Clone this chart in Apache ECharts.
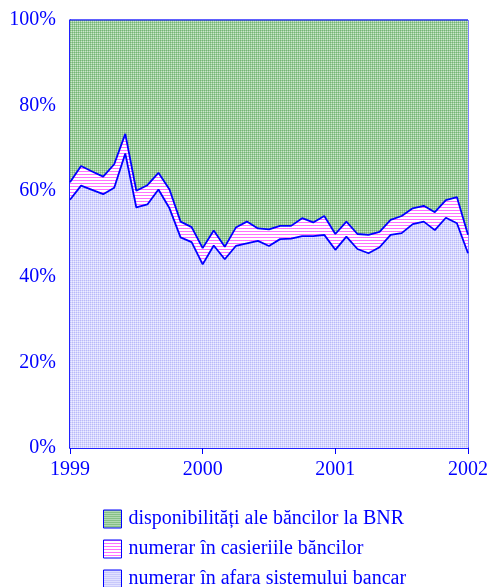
<!DOCTYPE html>
<html>
<head>
<meta charset="utf-8">
<script src="https://cdn.jsdelivr.net/npm/echarts@6/dist/echarts.min.js"></script>
<style>
  html, body { margin: 0; padding: 0; background: #fff; }
  #chart { width: 491px; height: 587px; }
</style>
</head>
<body>
<div id="chart"></div>
<script>
// lunar, ian 1999 - ian 2002
var months = ['1999-01', '1999-02', '1999-03', '1999-04', '1999-05', '1999-06', '1999-07', '1999-08', '1999-09', '1999-10', '1999-11', '1999-12',
  '2000-01', '2000-02', '2000-03', '2000-04', '2000-05', '2000-06', '2000-07', '2000-08', '2000-09', '2000-10', '2000-11', '2000-12',
  '2001-01', '2001-02', '2001-03', '2001-04', '2001-05', '2001-06', '2001-07', '2001-08', '2001-09', '2001-10', '2001-11', '2001-12',
  '2002-01']
// % din total
var numerarAfara = [58.0, 61.3, 60.3, 59.3, 60.8, 68.8, 56.2, 56.9, 60.4, 56.0, 49.2, 48.1, 42.9,
  47.3, 44.1, 47.2, 47.8, 48.4, 47.2, 48.8, 48.9, 49.5, 49.5, 49.8, 46.3,
  49.4, 46.5, 45.5, 46.9, 49.8, 50.2, 52.3, 52.9, 50.9, 53.8, 52.5, 45.5]
var numerarCasierii = [4.1, 4.6, 4.3, 4.1, 5.5, 4.6, 3.9, 4.5, 3.9, 4.4, 3.7, 3.5, 3.8,
  3.5, 2.9, 4.3, 5.1, 2.9, 3.9, 3.1, 3.0, 4.2, 3.2, 4.4, 3.7,
  3.5, 3.5, 4.3, 3.6, 3.5, 4.0, 3.7, 3.7, 4.2, 4.1, 6.1, 4.3]
var disponibilitatiBNR = [37.9, 34.1, 35.4, 36.6, 33.7, 26.6, 39.9, 38.6, 35.7, 39.6, 47.1, 48.4, 53.3,
  49.2, 53.0, 48.5, 47.1, 48.7, 48.9, 48.1, 48.1, 46.3, 47.3, 45.8, 50.0,
  47.1, 50.0, 50.2, 49.5, 46.7, 45.8, 44.0, 43.4, 44.9, 42.1, 41.4, 50.2]

var BLUE = '#0000ff'

function makePattern(w, h, draw) {
  var c = document.createElement('canvas')
  c.width = w
  c.height = h
  draw(c.getContext('2d'))
  return { image: c, repeat: 'repeat' }
}

var greenPattern = makePattern(2, 2, function(ctx) {
  ctx.fillStyle = '#99cc99'
  ctx.fillRect(0, 0, 2, 2)
  ctx.fillStyle = '#74b474'
  ctx.fillRect(0, 0, 1, 1)
  ctx.fillStyle = '#cce6cc'
  ctx.fillRect(1, 1, 1, 1)
})
var pinkPattern = makePattern(1, 3, function(ctx) {
  ctx.fillStyle = '#ffffff'
  ctx.fillRect(0, 0, 1, 3)
  ctx.fillStyle = '#ff70ff'
  ctx.fillRect(0, 0, 1, 1)
})
var lavenderPattern = makePattern(2, 2, function(ctx) {
  ctx.fillStyle = '#d6d6ff'
  ctx.fillRect(0, 0, 2, 2)
  ctx.fillStyle = '#babaf8'
  ctx.fillRect(0, 0, 1, 1)
  ctx.fillStyle = '#ededff'
  ctx.fillRect(1, 1, 1, 1)
})

function isYearStart(i) {
  return i % 12 === 0
}

var chart = echarts.init(document.getElementById('chart'))
var font = 'Liberation Serif'

chart.setOption({
  animation: false,
  backgroundColor: '#ffffff',
  grid: {
    left: 70,
    right: 20,
    top: 20,
    bottom: 139,
    show: true,
    borderColor: BLUE,
    borderWidth: 1
  },
  xAxis: {
    type: 'category',
    boundaryGap: false,
    data: months,
    axisLine: { lineStyle: { color: BLUE, width: 1.5 } },
    axisTick: { show: true, length: 6, interval: isYearStart, lineStyle: { color: BLUE } },
    splitLine: { show: false },
    axisLabel: {
      color: BLUE,
      fontFamily: font,
      fontSize: 20,
      margin: 12,
      interval: isYearStart,
      formatter: function(v) { return v.slice(0, 4) }
    }
  },
  yAxis: {
    type: 'value',
    min: 0,
    max: 100,
    interval: 20,
    axisLine: { show: true, lineStyle: { color: BLUE, width: 1.5 } },
    axisTick: { show: false },
    splitLine: { show: false },
    axisLabel: {
      color: BLUE,
      fontFamily: font,
      fontSize: 20,
      margin: 14,
      formatter: '{value}%'
    }
  },
  legend: {
    orient: 'vertical',
    left: 103,
    top: 509,
    height: 120,
    padding: 0,
    itemWidth: 18,
    itemHeight: 18,
    itemGap: 10,
    icon: 'rect',
    textStyle: { color: BLUE, fontFamily: font, fontSize: 20, padding: [0, 0, 0, 2] },
    data: [
      { name: 'disponibilități ale băncilor la BNR', itemStyle: { color: greenPattern, borderColor: BLUE, borderWidth: 1 } },
      { name: 'numerar în casieriile băncilor', itemStyle: { color: pinkPattern, borderColor: BLUE, borderWidth: 1 } },
      { name: 'numerar în afara sistemului bancar', itemStyle: { color: lavenderPattern, borderColor: BLUE, borderWidth: 1 } }
    ]
  },
  series: [
    {
      name: 'numerar în afara sistemului bancar',
      type: 'line',
      stack: 'total',
      symbol: 'none',
      data: numerarAfara,
      lineStyle: { color: BLUE, width: 1.8 },
      itemStyle: { color: BLUE },
      areaStyle: { color: lavenderPattern, opacity: 1 },
      z: 3
    },
    {
      name: 'numerar în casieriile băncilor',
      type: 'line',
      stack: 'total',
      symbol: 'none',
      data: numerarCasierii,
      lineStyle: { color: BLUE, width: 1.8 },
      itemStyle: { color: BLUE },
      areaStyle: { color: pinkPattern, opacity: 1 },
      z: 2
    },
    {
      name: 'disponibilități ale băncilor la BNR',
      type: 'line',
      stack: 'total',
      symbol: 'none',
      data: disponibilitatiBNR,
      lineStyle: { color: BLUE, width: 1 },
      itemStyle: { color: BLUE },
      areaStyle: { color: greenPattern, opacity: 1 },
      z: 1
    }
  ]
})
</script>
</body>
</html>
